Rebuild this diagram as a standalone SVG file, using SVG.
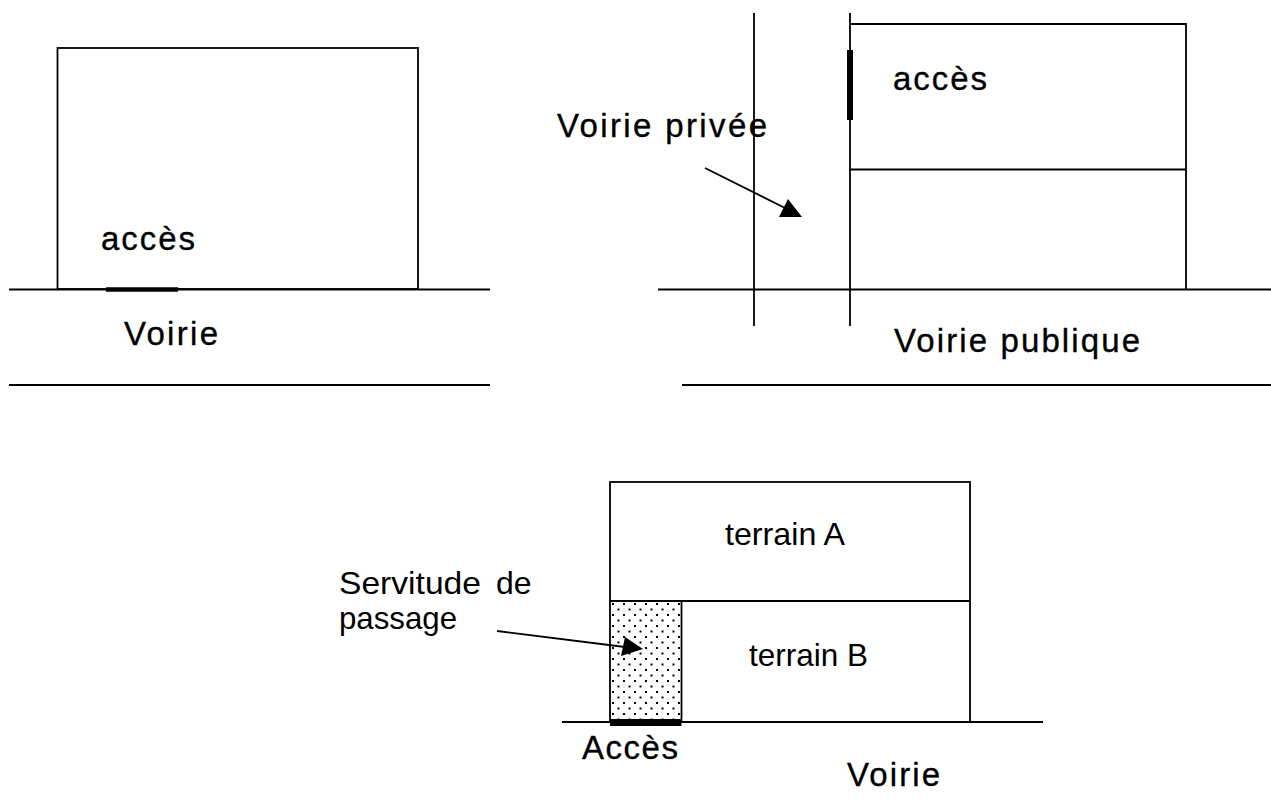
<svg xmlns="http://www.w3.org/2000/svg" width="1271" height="812" viewBox="0 0 1271 812">
<style>
.ln{stroke:#000;stroke-width:1.8;fill:none}
.bar{stroke:#000;fill:none}
.t{font-family:"Liberation Sans",Arial,sans-serif;fill:#000;font-size:32px}
.h{font-size:33px;stroke:#000;stroke-width:0.35}
</style>
<defs>
<pattern id="dots" patternUnits="userSpaceOnUse" x="610" y="601" width="11" height="11">
<rect x="2" y="2" width="2" height="2" fill="#000"/>
<rect x="7.5" y="7.5" width="2" height="2" fill="#000"/>
</pattern>
</defs>
<rect width="1271" height="812" fill="#fff"/>
<g id="panel1">
<rect class="ln" x="57.5" y="48" width="360.5" height="241"/>
<line class="ln" x1="9" y1="289.5" x2="490" y2="289.5"/>
<line class="ln" x1="9" y1="385" x2="490" y2="385"/>
<line class="bar" x1="106" y1="289.5" x2="178" y2="289.5" stroke-width="4.5"/>
<text class="t h" x="101" y="250" textLength="94" lengthAdjust="spacing">accès</text>
<text class="t h" x="124" y="345" textLength="94" lengthAdjust="spacing">Voirie</text>
</g>
<g id="panel2">
<line class="ln" x1="754" y1="13" x2="754" y2="326"/>
<line class="ln" x1="850" y1="13" x2="850" y2="326"/>
<polyline class="ln" points="850,24 1186,24 1186,289.5"/>
<line class="ln" x1="850" y1="169.5" x2="1186" y2="169.5"/>
<line class="ln" x1="658" y1="289.5" x2="1271" y2="289.5"/>
<line class="ln" x1="682" y1="385" x2="1271" y2="385"/>
<line class="bar" x1="850" y1="50" x2="850" y2="120" stroke-width="6"/>
<text class="t h" x="893" y="90" textLength="94" lengthAdjust="spacing">accès</text>
<text class="t h" x="557" y="137" textLength="210" lengthAdjust="spacing">Voirie privée</text>
<text class="t h" x="894" y="352" textLength="246" lengthAdjust="spacing">Voirie publique</text>
</g>
<g id="panel3">
<rect x="610" y="601" width="71.5" height="121" fill="url(#dots)"/>
<rect class="ln" x="610" y="482" width="360" height="240"/>
<line class="ln" x1="610" y1="601" x2="970" y2="601"/>
<line class="ln" x1="681.5" y1="601" x2="681.5" y2="722"/>
<line class="ln" x1="562" y1="722" x2="1043" y2="722"/>
<line class="bar" x1="610" y1="722.5" x2="681.5" y2="722.5" stroke-width="7"/>
<text class="t" x="725" y="545" textLength="120" lengthAdjust="spacingAndGlyphs">terrain A</text>
<text class="t" x="749" y="666" textLength="119" lengthAdjust="spacingAndGlyphs">terrain B</text>
<text class="t" x="339" y="594" textLength="142" lengthAdjust="spacingAndGlyphs">Servitude</text>
<text class="t" x="496" y="594">de</text>
<text class="t" x="339" y="629" textLength="118" lengthAdjust="spacingAndGlyphs">passage</text>
<text class="t h" x="582" y="759" textLength="96" lengthAdjust="spacing">Accès</text>
<text class="t h" x="847" y="786" textLength="93" lengthAdjust="spacing">Voirie</text>
</g>
<g id="connectors">
<line class="ln" x1="705" y1="168" x2="785" y2="208"/>
<polygon points="779,217 802,217 788,199" fill="#000"/>
<line class="ln" x1="497" y1="631" x2="625" y2="647"/>
<polygon points="621,656 625,637 643,649" fill="#000"/>
</g>
</svg>
